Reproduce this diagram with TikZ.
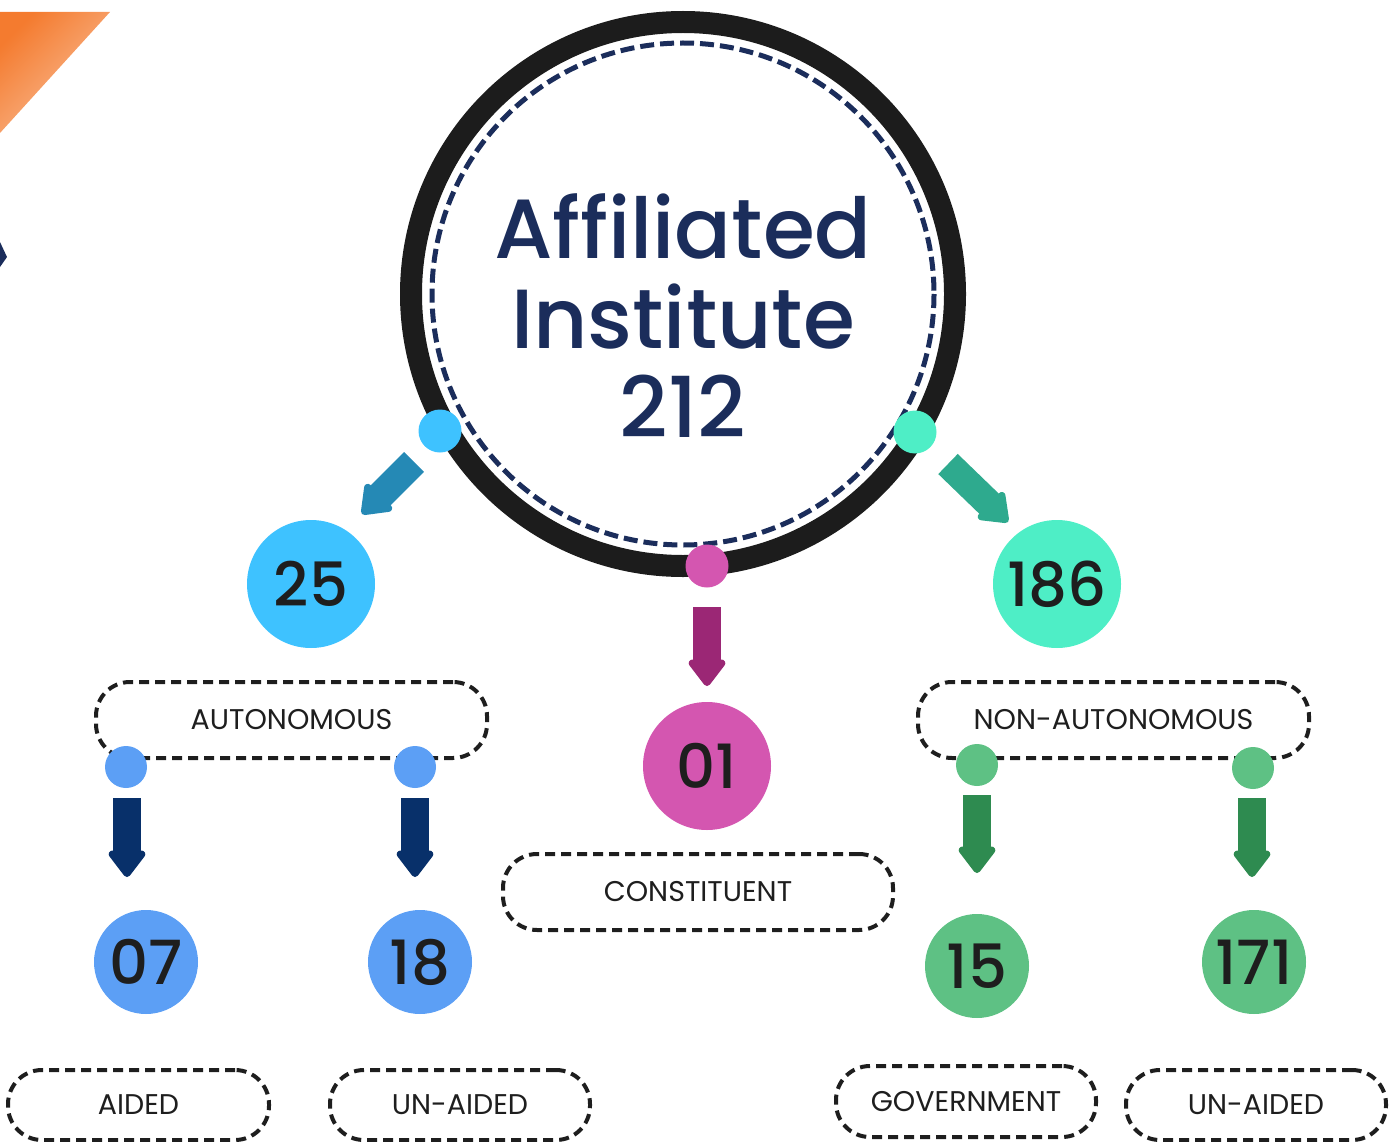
\documentclass[tikz,border=0pt]{standalone}
\usepackage{fontspec}
\setmainfont{Poppins}
\newfontfamily\medfont{Poppins Medium}
\usetikzlibrary{arrows.meta}
\definecolor{navy}{HTML}{1B2D5B}
\definecolor{ringblack}{HTML}{1C1C1C}
\definecolor{txt}{HTML}{1E1E1E}
\definecolor{cyanc}{HTML}{3EC2FF}
\definecolor{tealc}{HTML}{4EEEC6}
\definecolor{pinkc}{HTML}{D456B0}
\definecolor{pinkarrow}{HTML}{9B2775}
\definecolor{bluearrow}{HTML}{2589B5}
\definecolor{tealarrow}{HTML}{2EAA8E}
\definecolor{lblue}{HTML}{5C9FF5}
\definecolor{navyarrow}{HTML}{08306A}
\definecolor{lgreen}{HTML}{5EC184}
\definecolor{greenarrow}{HTML}{2E8B50}
\definecolor{orangeA}{HTML}{F47B2F}
\definecolor{orangeB}{HTML}{FAC09A}
\begin{document}
\begin{tikzpicture}[x=1pt,y=-1pt,
  bigc/.style={circle,inner sep=0pt,minimum size=128pt,font=\medfont\fontsize{61}{61}\selectfont,text=txt},
  smallc/.style={circle,inner sep=0pt,minimum size=104pt,font=\medfont\fontsize{61}{61}\selectfont,text=txt},
  dotc/.style={circle,inner sep=0pt,minimum size=43pt},
  lbox/.style={draw=txt,line width=4pt,dash pattern=on 10pt off 6pt,rounded corners=34pt,inner sep=0pt,font=\fontsize{28.5}{28.5}\selectfont,text=txt},
  fatarrow/.style={line width=28pt,-{Triangle[length=29pt,width=42pt,round]}},
  titletext/.style={font=\medfont\fontsize{84}{84}\selectfont,text=navy,anchor=base}
]
\useasboundingbox (0,0) rectangle (1397,1142);
% decorations at left edge
\shade[top color=orangeA,bottom color=orangeB,shading angle=45] (0,12) -- (110,12) -- (0,133) -- cycle;
\fill[navy] (0,242) -- (7,257) -- (0,267) -- cycle;
% central ring
\coordinate (c) at (683,294);
\draw[ringblack,line width=22pt] (c) circle[radius=272];
\draw[navy,line width=5pt,dash pattern=on 14pt off 6pt] (c) circle[radius=251];
\node[titletext] (t1) at (683,258) {Affiliated};
\node[titletext] (t2) at (683,348) {Institute};
\node[titletext] (t3) at (683,437) {212};
% ring dots
\node[dotc,fill=cyanc] (dl) at (440,431) {};
\node[dotc,fill=tealc] (dr) at (915,432) {};
\node[dotc,fill=pinkc] (dm) at (707,566) {};
% arrow end points
\coordinate (a1s) at (414,462); \coordinate (a1e) at (362,514);
\coordinate (a2s) at (948,464); \coordinate (a2e) at (1008,522);
\coordinate (a3s) at (707,607); \coordinate (a3e) at (707,686);
\coordinate (a4s) at (127,798); \coordinate (a4e) at (127,877);
\coordinate (a5s) at (415,798); \coordinate (a5e) at (415,877);
\coordinate (a6s) at (977,795); \coordinate (a6e) at (977,873);
\coordinate (a7s) at (1252,798); \coordinate (a7e) at (1252,877);
\draw[fatarrow,bluearrow] (a1s) -- (a1e);
\draw[fatarrow,tealarrow] (a2s) -- (a2e);
\draw[fatarrow,pinkarrow] (a3s) -- (a3e);
\draw[fatarrow,navyarrow] (a4s) -- (a4e);
\draw[fatarrow,navyarrow] (a5s) -- (a5e);
\draw[fatarrow,greenarrow] (a6s) -- (a6e);
\draw[fatarrow,greenarrow] (a7s) -- (a7e);
% number circles
\node[bigc,fill=cyanc] (n25) at (311,584) {25};
\node[bigc,fill=tealc] (n186) at (1057,584) {186};
\node[bigc,fill=pinkc] (n01) at (707,766) {01};
\node[smallc,fill=lblue] (n07) at (146,962) {07};
\node[smallc,fill=lblue] (n18) at (420,962) {18};
\node[smallc,fill=lgreen] (n15) at (977,966) {15};
\node[smallc,fill=lgreen] (n171) at (1254,962) {171};
% label boxes
\node[lbox,minimum width=391pt,minimum height=76pt] (bauto) at (291.5,720) {AUTONOMOUS};
\node[lbox,minimum width=391pt,minimum height=76pt] (bnon) at (1113.5,720) {NON-AUTONOMOUS};
\node[lbox,minimum width=390pt,minimum height=76pt] (bcon) at (698,892) {CONSTITUENT};
\node[lbox,minimum width=261pt,minimum height=70pt] (baid) at (138.5,1105) {AIDED};
\node[lbox,minimum width=260pt,minimum height=70pt] (bun1) at (460,1105) {UN-AIDED};
\node[lbox,minimum width=260pt,minimum height=71pt] (bgov) at (966,1101.5) {GOVERNMENT};
\node[lbox,minimum width=260pt,minimum height=70pt] (bun2) at (1256,1105) {UN-AIDED};
% box dots
\node[dotc,fill=lblue,minimum size=42pt] (d1) at (126,767) {};
\node[dotc,fill=lblue,minimum size=42pt] (d2) at (415,767) {};
\node[dotc,fill=lgreen,minimum size=42pt] (d3) at (977,765) {};
\node[dotc,fill=lgreen,minimum size=42pt] (d4) at (1253,768) {};
\end{tikzpicture}
\end{document}
